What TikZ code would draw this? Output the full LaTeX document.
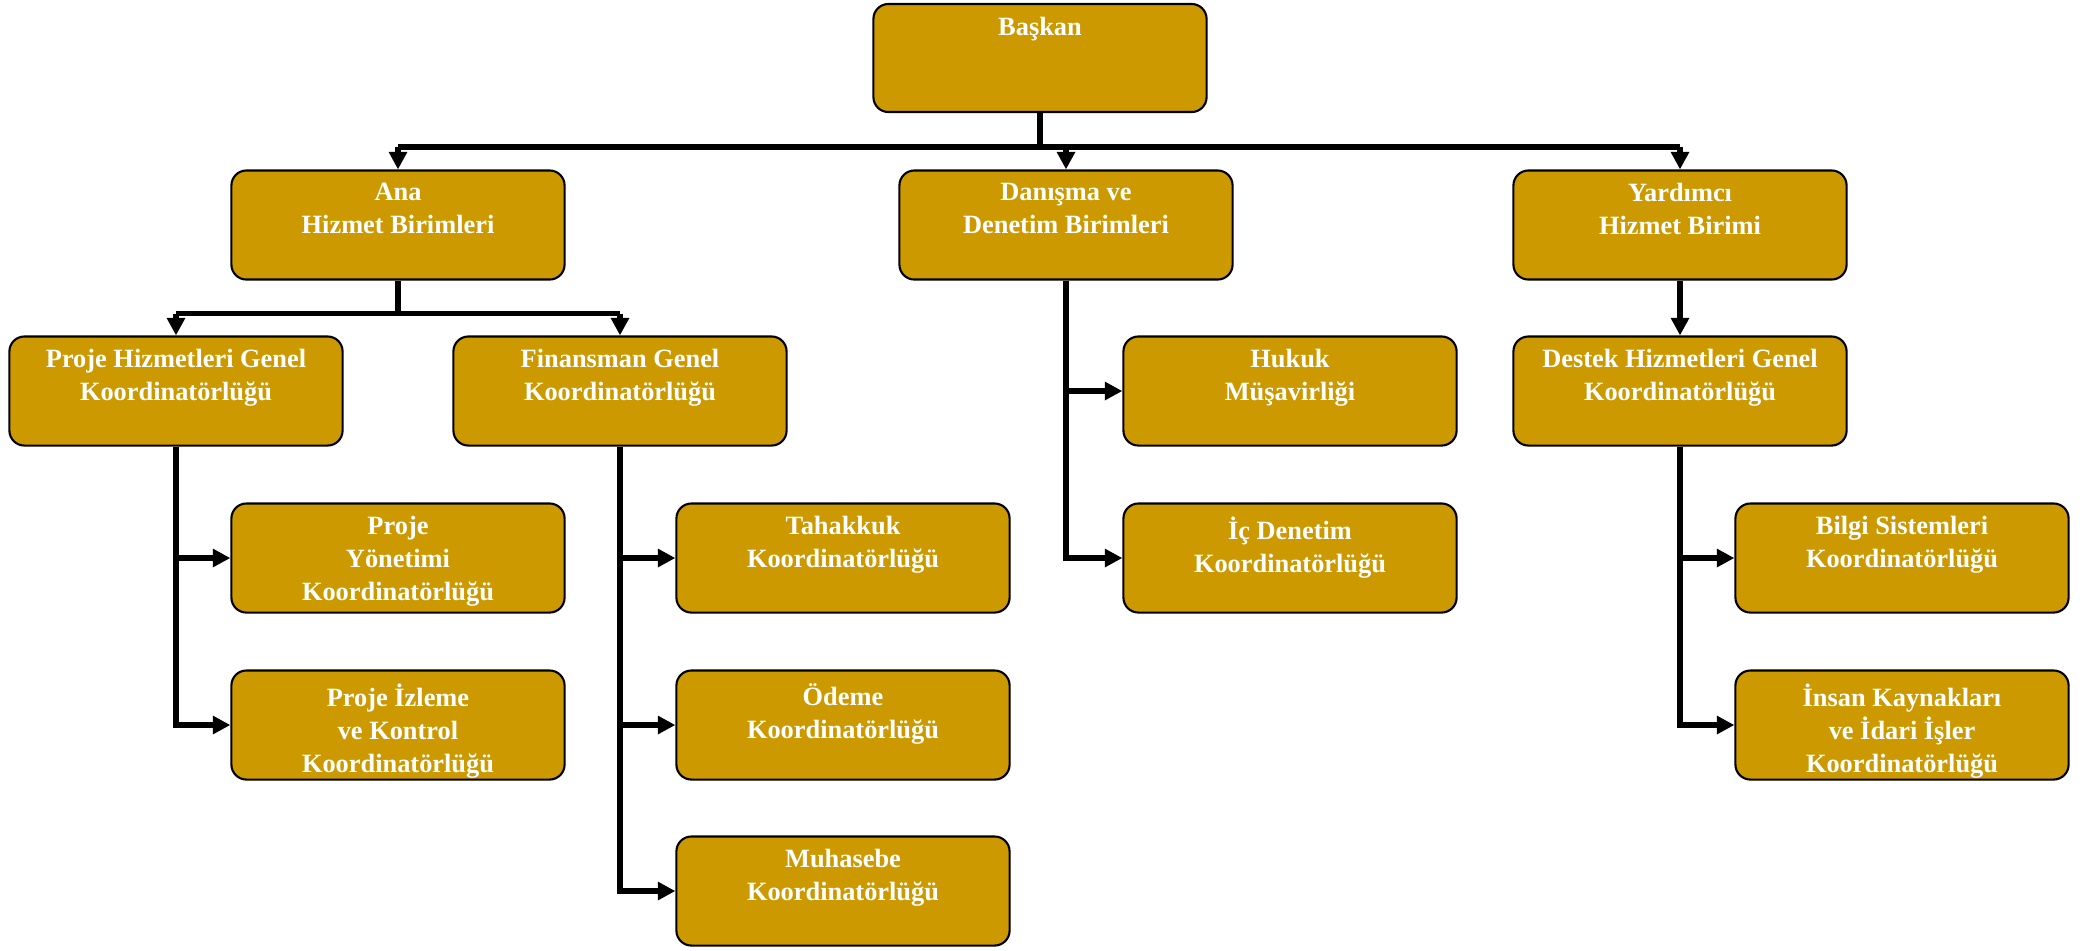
\documentclass[tikz,border=0pt]{standalone}
\usepackage{fontspec}
\setmainfont{Liberation Serif}
\usetikzlibrary{arrows.meta}
\definecolor{gold}{RGB}{204,153,0}
\begin{document}
\begin{tikzpicture}[x=0.01cm,y=-0.01cm,
  unit/.style={draw,line width=0.6pt,fill=gold,rounded corners=0.15cm,
    minimum width=3.33cm,minimum height=1.09cm},
  unittext/.style={anchor=north,align=center,inner sep=3.8pt,text=white,
    font=\bfseries\fontsize{7.5pt}{9.4pt}\selectfont},
  link/.style={line width=1.6pt},
  arrow/.style={line width=1.6pt,-{Triangle[length=5pt,width=5pt]}}]
  \useasboundingbox (0,0) rectangle (2094,950);
  % top
  \node[unit,minimum height=1.08cm,label={[unittext]north:Başkan}] (baskan) at (1040,58) {};
  % first level
  \node[unit,label={[unittext]north:{Ana\\Hizmet Birimleri}}] (ana) at (398,225) {};
  \node[unit,label={[unittext]north:{Danışma ve\\Denetim Birimleri}}] (danisma) at (1066,225) {};
  \node[unit,label={[unittext]north:{Yardımcı\\Hizmet Birimi}}] (yardimci) at (1680,225) {};
  % second level
  \node[unit,label={[unittext]north:{Proje Hizmetleri Genel\\Koordinatörlüğü}}] (projehiz) at (176,391) {};
  \node[unit,label={[unittext]north:{Finansman Genel\\Koordinatörlüğü}}] (finansman) at (620,391) {};
  \node[unit,label={[unittext]north:{Hukuk\\Müşavirliği}}] (hukuk) at (1290,391) {};
  \node[unit,label={[unittext]north:{Destek Hizmetleri Genel\\Koordinatörlüğü}}] (destek) at (1680,391) {};
  % third level
  \node[unit,label={[unittext]north:{Proje\\Yönetimi\\Koordinatörlüğü}}] (yonetim) at (398,558) {};
  \node[unit,label={[unittext]north:{Tahakkuk\\Koordinatörlüğü}}] (tahakkuk) at (843,558) {};
  \node[unit,label={[unittext]north:{İç Denetim\\Koordinatörlüğü}}] (icdenetim) at (1290,558) {};
  \node[unit,label={[unittext]north:{Bilgi Sistemleri\\Koordinatörlüğü}}] (bilgi) at (1902,558) {};
  \node[unit,label={[unittext]north:{Proje İzleme\\ve Kontrol\\Koordinatörlüğü}}] (izleme) at (398,725) {};
  \node[unit,label={[unittext]north:{Ödeme\\Koordinatörlüğü}}] (odeme) at (843,725) {};
  \node[unit,label={[unittext]north:{İnsan Kaynakları\\ve İdari İşler\\Koordinatörlüğü}}] (insan) at (1902,725) {};
  \node[unit,label={[unittext]north:{Muhasebe\\Koordinatörlüğü}}] (muhasebe) at (843,891) {};
  % connectors
  \draw[link] (baskan.south) -- ++(0,34) coordinate (tophub);
  \draw[link] (ana.north |- tophub) -- (yardimci.north |- tophub);
  \foreach \u in {ana,danisma,yardimci}
    \draw[arrow] (\u.north |- tophub) -- (\u.north);
  \draw[link] (ana.south) -- ++(0,33) coordinate (anahub);
  \draw[link] (projehiz.north |- anahub) -- (finansman.north |- anahub);
  \foreach \u in {projehiz,finansman}
    \draw[arrow] (\u.north |- anahub) -- (\u.north);
  \draw[arrow] (yardimci.south) -- (destek.north);
  \foreach \p/\c in {projehiz/yonetim,projehiz/izleme,finansman/tahakkuk,
      finansman/odeme,finansman/muhasebe,danisma/hukuk,danisma/icdenetim,
      destek/bilgi,destek/insan}
    \draw[arrow] (\p.south) |- (\c.west);
\end{tikzpicture}
\end{document}
